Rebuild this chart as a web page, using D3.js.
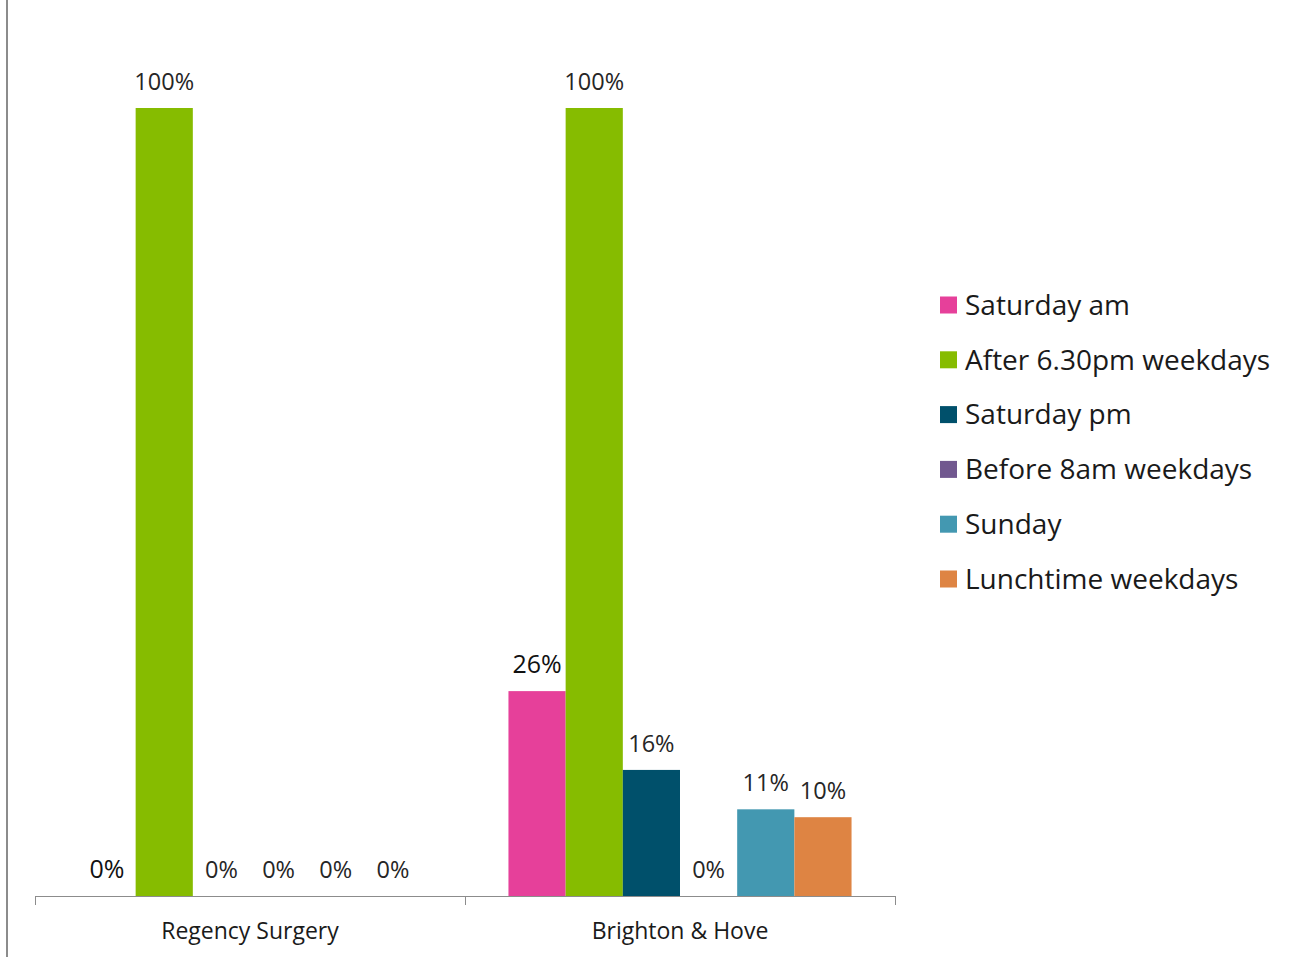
<!DOCTYPE html>
<html>
<head>
<meta charset="utf-8">
<script src="https://cdn.jsdelivr.net/npm/d3@7"></script>
<style>
  html, body { margin: 0; padding: 0; background: #fff; }
  svg { display: block; }
  text { font-family: "Open Sans", "Noto Sans", sans-serif; fill: #1a1a1a; }
</style>
</head>
<body>
<svg id="chart" width="1299" height="957"></svg>
<script>
// Practice groups along the x axis
const categories = ["Regency Surgery", "Brighton & Hove"];

// Opening-time series, in legend order
const seriesNames = [
  "Saturday am",
  "After 6.30pm weekdays",
  "Saturday pm",
  "Before 8am weekdays",
  "Sunday",
  "Lunchtime weekdays"
];

// Percentage values per series, one entry per category
const saturdayAm   = [0, 26];
const after630pm   = [100, 100];
const saturdayPm   = [0, 16];
const before8am    = [0, 0];
const sunday       = [0, 11];
const lunchtime    = [0, 10];

const seriesColors = ["#E6409A", "#86BC00", "#00506B", "#71588F", "#4398B1", "#DE8443"];

const seriesValues = [saturdayAm, after630pm, saturdayPm, before8am, sunday, lunchtime];

const svg = d3.select("#chart");

// Outer frame line on the left edge
svg.append("line")
  .attr("x1", 7).attr("x2", 7)
  .attr("y1", 0).attr("y2", 957)
  .attr("stroke", "#8c8c8c").attr("stroke-width", 2);

const plot = { left: 35, right: 895, top: 108, bottom: 896 };

const x0 = d3.scaleBand()
  .domain(categories)
  .range([plot.left, plot.right])
  .paddingInner(0)
  .paddingOuter(0);

const x1 = d3.scaleBand()
  .domain(seriesNames)
  .range([0, x0.bandwidth()])
  .paddingOuter(0.76)
  .paddingInner(0);

const y = d3.scaleLinear().domain([0, 100]).range([plot.bottom, plot.top]);

const rows = categories.map((c, ci) => ({
  category: c,
  values: seriesNames.map((s, si) => ({ series: s, value: seriesValues[si][ci], si }))
}));

const groups = svg.selectAll("g.group")
  .data(rows)
  .join("g")
  .attr("class", "group")
  .attr("transform", d => `translate(${x0(d.category)},0)`);

groups.selectAll("rect")
  .data(d => d.values)
  .join("rect")
  .attr("x", d => x1(d.series))
  .attr("y", d => y(d.value))
  .attr("width", x1.bandwidth())
  .attr("height", d => y(0) - y(d.value))
  .attr("fill", d => seriesColors[d.si]);

const fmt = v => d3.format(".0f")(v) + "%";

groups.selectAll("text.val")
  .data(d => d.values)
  .join("text")
  .attr("class", "val")
  .attr("x", d => x1(d.series) + x1.bandwidth() / 2)
  .attr("y", d => (d.value === 0 ? y(0) : y(d.value)) - 18)
  .attr("text-anchor", "middle")
  .style("font-size", d => d.si === 0 ? "25px" : "23.5px")
  .style("fill", d => d.si === 0 ? "#111" : "#262626")
  .text(d => fmt(d.value));

// Category axis with boundary ticks
const axisG = svg.append("g");
axisG.append("line")
  .attr("x1", plot.left).attr("x2", plot.right)
  .attr("y1", plot.bottom + 0.5).attr("y2", plot.bottom + 0.5)
  .attr("stroke", "#8c8c8c").attr("stroke-width", 1);

const boundaries = [plot.left, ...categories.map(c => x0(c) + x0.bandwidth())];
axisG.selectAll("line.tick")
  .data(boundaries)
  .join("line")
  .attr("class", "tick")
  .attr("x1", d => Math.round(d) + 0.5).attr("x2", d => Math.round(d) + 0.5)
  .attr("y1", plot.bottom).attr("y2", plot.bottom + 9)
  .attr("stroke", "#8c8c8c");

axisG.selectAll("text.cat")
  .data(categories)
  .join("text")
  .attr("class", "cat")
  .attr("x", d => x0(d) + x0.bandwidth() / 2)
  .attr("y", 939)
  .attr("text-anchor", "middle")
  .style("font-size", "23px")
  .text(d => d);

// Legend
const legend = svg.append("g").attr("transform", "translate(940,305)");
const item = legend.selectAll("g")
  .data(seriesNames)
  .join("g")
  .attr("transform", (d, i) => `translate(0,${i * 54.8})`);

item.append("rect")
  .attr("x", 0).attr("y", -8.5)
  .attr("width", 17).attr("height", 17)
  .attr("fill", (d, i) => seriesColors[i]);

item.append("text")
  .attr("x", 25).attr("y", 0)
  .attr("dy", "0.35em")
  .style("font-size", "28px")
  .text(d => d);
</script>
</body>
</html>
